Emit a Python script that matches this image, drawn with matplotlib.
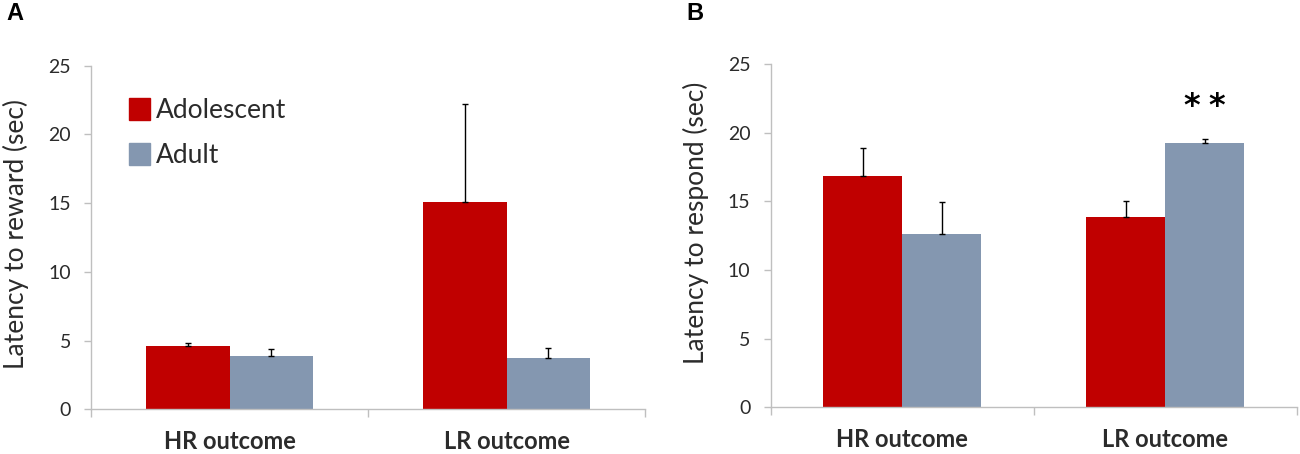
import numpy as np
import matplotlib
matplotlib.use("Agg")
import matplotlib.pyplot as plt
from matplotlib.patches import Patch

plt.rcParams['font.family'] = ['Lato', 'DejaVu Sans']

# data
outcomes = ["HR outcome", "LR outcome"]
groups = ["Adolescent", "Adult"]

reward_adolescent = [4.61, 15.06]
reward_adolescent_err = [0.19, 7.18]
reward_adult = [3.86, 3.71]
reward_adult_err = [0.50, 0.75]

respond_adolescent = [16.89, 13.90]
respond_adolescent_err = [2.04, 1.14]
respond_adult = [12.66, 19.24]
respond_adult_err = [2.33, 0.34]

red = "#C00000"
blue = "#8497B0"
axis_col = "#BFBFBF"
text_col = "#2b2b2b"

fig = plt.figure(figsize=(13, 4.54), dpi=100)
axA = fig.add_axes([0.0700, 0.0985, 0.4262, 0.7568])
axB = fig.add_axes([0.5928, 0.1029, 0.4046, 0.7555])

w = 0.3
x = np.arange(len(outcomes)) + 0.5


def draw(ax, adol, adol_err, adult, adult_err, ylabel, label_y):
    ax.bar(x - w / 2, adol, w, color=red, zorder=2)
    ax.bar(x + w / 2, adult, w, color=blue, zorder=2)
    # upper error bars only
    ax.errorbar(x - w / 2, adol, yerr=[np.zeros(2), adol_err], fmt="none",
                ecolor="black", elinewidth=1, capsize=2.5, capthick=1, zorder=3)
    ax.errorbar(x + w / 2, adult, yerr=[np.zeros(2), adult_err], fmt="none",
                ecolor="black", elinewidth=1, capsize=2.5, capthick=1, zorder=3)

    ax.set_xlim(0, 2)
    ax.set_ylim(0, 25)
    ax.set_yticks([0, 5, 10, 15, 20, 25])
    ax.set_xticks(x)
    ax.set_xticklabels(outcomes, fontsize=17, fontweight="bold", color=text_col)
    ax.set_xticks([0, 1, 2], minor=True)
    ax.tick_params(axis="x", which="major", length=0, pad=15)
    ax.tick_params(axis="x", which="minor", length=6, color=axis_col, width=1)
    ax.tick_params(axis="y", length=5, color=axis_col, width=1, pad=9.5,
                   labelsize=14, labelcolor=text_col)
    for s in ["top", "right"]:
        ax.spines[s].set_visible(False)
    for s in ["left", "bottom"]:
        ax.spines[s].set_color(axis_col)
        ax.spines[s].set_linewidth(1)
    ax.set_ylabel(ylabel, fontsize=19, color=text_col)
    width_px = ax.get_position().width * 1300
    ax.yaxis.set_label_coords(-62 / width_px, label_y)


draw(axA, reward_adolescent, reward_adolescent_err, reward_adult, reward_adult_err,
     "Latency to reward (sec)", 0.51)
draw(axB, respond_adolescent, respond_adolescent_err, respond_adult, respond_adult_err,
     "Latency to respond (sec)", 0.539)

handles = [Patch(facecolor=red, edgecolor=red), Patch(facecolor=blue, edgecolor=blue)]
axA.legend(handles, groups, loc="upper left", bbox_to_anchor=(0.068, 0.905),
           frameon=False, fontsize=19, handlelength=0.8, handleheight=0.88,
           handletextpad=0.22, labelspacing=0.74, borderpad=0, borderaxespad=0,
           labelcolor=text_col)

# significance stars over LR adult bar
for dx in (-9, 9):
    axB.annotate("*", (x[1] + w / 2, 21.95), xytext=(dx, 0), textcoords="offset points",
                 ha="center", va="center", fontsize=23, fontweight="bold",
                 family="DejaVu Sans")

fig.text(6 / 1300, 1 - 2.5 / 454, "A", fontsize=17, fontweight="bold",
         family="Liberation Sans", va="top")
fig.text(686 / 1300, 1 - 2.5 / 454, "B", fontsize=17, fontweight="bold",
         family="Liberation Sans", va="top")

plt.savefig("out.png", dpi=100)
